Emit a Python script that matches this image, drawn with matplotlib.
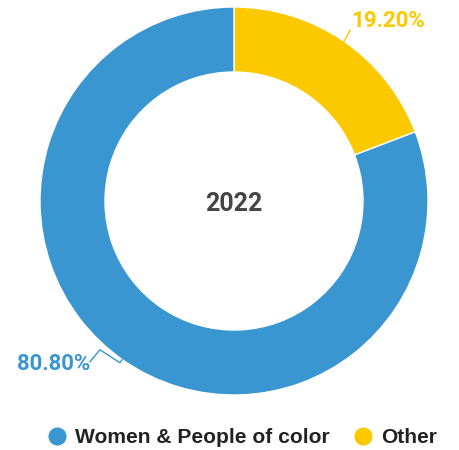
import numpy as np
import matplotlib
matplotlib.use("Agg")
import matplotlib.pyplot as plt

labels = ["Other", "Women & People of color"]
shares = [19.20, 80.80]
colors = ["#fcc900", "#3a96d0"]
year = "2022"

W, H = 460, 450
cx, cy = 234, H - 201
radius = 194
ring = 65

fig = plt.figure(figsize=(W / 100, H / 100), dpi=100)
ax = fig.add_axes([0, 0, 1, 1])

wedges, _ = ax.pie(shares, colors=colors, startangle=90, counterclock=False,
                   center=(cx, cy), radius=radius, frame=True,
                   wedgeprops=dict(width=ring, edgecolor="white", linewidth=1))
ax.set_xlim(0, W)
ax.set_ylim(0, H)
ax.set_aspect("equal")
ax.axis("off")

ax.text(cx, cy - 3, year, ha="center", va="center", fontsize=18,
        fontweight="bold", family="Roboto", color="#454545")

# value labels with leader lines from the middle of each wedge
for w, val, col in zip(wedges, shares, colors):
    mid = np.deg2rad((w.theta1 + w.theta2) / 2)
    ex, ey = cx + radius * np.cos(mid), cy + radius * np.sin(mid)
    txt = f"{val:.2f}%"
    if np.cos(mid) >= 0:
        pts = [(ex, ey), (ex + 6, ey + 11)]
        ax.plot(*zip(*pts), color=col, lw=1)
        ax.text(ex + 7, ey + 20, txt, ha="left", va="center", fontsize=16,
                fontweight="bold", family="Roboto", color=col)
    else:
        pts = [(ex - 2, ey + 1), (ex - 4, ey - 2), (ex - 24, ey + 11),
               (ex - 34, ey - 1)]
        ax.plot(*zip(*pts), color=col, lw=1)
        ax.text(ex - 34, ey - 3, txt, ha="right", va="center", fontsize=16,
                fontweight="bold", family="Roboto", color=col)

# legend
leg = ax.legend(handles=[plt.Line2D([], [], marker="o", ls="", color=c, markersize=12)
                         for c in colors[::-1]],
                labels=labels[::-1], loc="center", bbox_to_anchor=(0.523, 0.028),
                ncol=2, frameon=False, handlelength=1.2, handletextpad=0.25,
                columnspacing=1.0,
                prop=dict(family="Liberation Sans", weight="bold", size=15.1))
for t in leg.get_texts():
    t.set_color("#222222")

fig.savefig("out.png", dpi=100)
